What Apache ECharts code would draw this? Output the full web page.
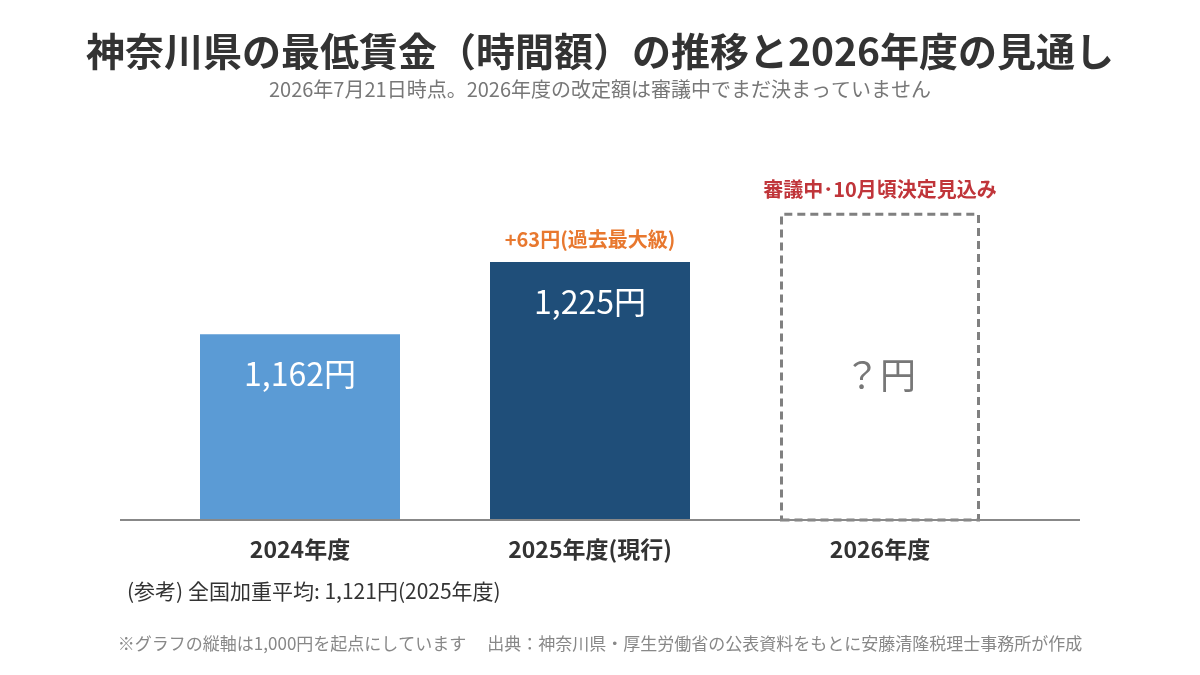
<!DOCTYPE html>
<html>
<head>
<meta charset="utf-8">
<script src="https://cdn.jsdelivr.net/npm/echarts@6/dist/echarts.min.js"></script>
<style>
html, body { margin: 0; padding: 0; background: #fff; }
#chart { width: 1200px; height: 675px; }
</style>
</head>
<body>
<div id="chart"></div>
<script>
// データ
const categories = ['2024年度', '2025年度(現行)', '2026年度']
const wages = [1162, 1225, 1268] // 2026年度は未定（枠の高さ用）
const barLabels = ['1,162円', '1,225円', '？円']
const topNotes = ['', '+63円(過去最大級)', '審議中･10月頃決定見込み']
const noteColors = ['#333333', '#E8782F', '#C0353A']
const yMin = 1000
const yMax = 1300

const font = '"Noto Sans CJK JP", "Noto Sans", sans-serif'
const chart = echarts.init(document.getElementById('chart'))

chart.setOption({
  backgroundColor: '#ffffff',
  textStyle: { fontFamily: font },
  title: [
    {
      text: '神奈川県の最低賃金（時間額）の推移と2026年度の見通し',
      left: 'center',
      top: 27,
      textStyle: { fontSize: 39, fontWeight: 'bold', color: '#333333', fontFamily: font }
    },
    {
      text: '2026年7月21日時点。2026年度の改定額は審議中でまだ決まっていません',
      left: 'center',
      top: 74,
      textStyle: { fontSize: 20, fontWeight: 'normal', color: '#777777', fontFamily: font }
    },
    {
      text: '(参考) 全国加重平均: 1,121円(2025年度)',
      left: 122,
      top: 576,
      textStyle: { fontSize: 21, fontWeight: 'normal', color: '#333333', fontFamily: font }
    },
    {
      text: '※グラフの縦軸は1,000円を起点にしています　 出典：神奈川県・厚生労働省の公表資料をもとに安藤清隆税理士事務所が作成',
      left: 'center',
      top: 630,
      textStyle: { fontSize: 17, fontWeight: 'normal', color: '#888888', fontFamily: font }
    }
  ],
  grid: {
    left: 155,
    width: 870,
    top: 176,
    height: 344
  },
  xAxis: {
    type: 'category',
    data: categories,
    axisLine: { show: false },
    axisTick: { show: false },
    axisLabel: {
      margin: 18,
      fontSize: 23,
      fontWeight: 'bold',
      color: '#333333',
      fontFamily: font
    }
  },
  yAxis: {
    type: 'value',
    min: yMin,
    max: yMax,
    show: false
  },
  graphic: [
    {
      // 横軸のベースライン
      type: 'line',
      shape: { x1: 120, y1: 520, x2: 1080, y2: 520 },
      style: { stroke: '#888888', lineWidth: 2 },
      z: 10
    }
  ],
  series: [
    {
      type: 'bar',
      barWidth: 200,
      data: wages.map(function (v, i) {
        if (i === 2) {
          return {
            value: v,
            itemStyle: {
              color: '#ffffff',
              borderColor: '#808080',
              borderWidth: 3,
              borderType: [8, 5]
            },
            label: {
              position: 'inside',
              offset: [0, 8],
              fontSize: 36,
              color: '#777777'
            }
          }
        }
        return {
          value: v,
          itemStyle: { color: i === 0 ? '#5B9BD5' : '#1F4E79' }
        }
      }),
      label: {
        show: true,
        position: 'insideTop',
        distance: 24,
        fontSize: 32,
        color: '#ffffff',
        fontFamily: font,
        formatter: function (p) { return barLabels[p.dataIndex] }
      },
      z: 2
    },
    {
      // 上部の注記用（透明）
      type: 'bar',
      barWidth: 200,
      barGap: '-100%',
      data: wages.map(function (v, i) {
        return { value: v, label: { color: noteColors[i] } }
      }),
      itemStyle: { color: 'transparent' },
      label: {
        show: true,
        position: 'top',
        distance: 13,
        fontSize: 20,
        fontWeight: 'bold',
        fontFamily: font,
        formatter: function (p) { return topNotes[p.dataIndex] }
      },
      silent: true,
      z: 1
    }
  ]
})
</script>
</body>
</html>
